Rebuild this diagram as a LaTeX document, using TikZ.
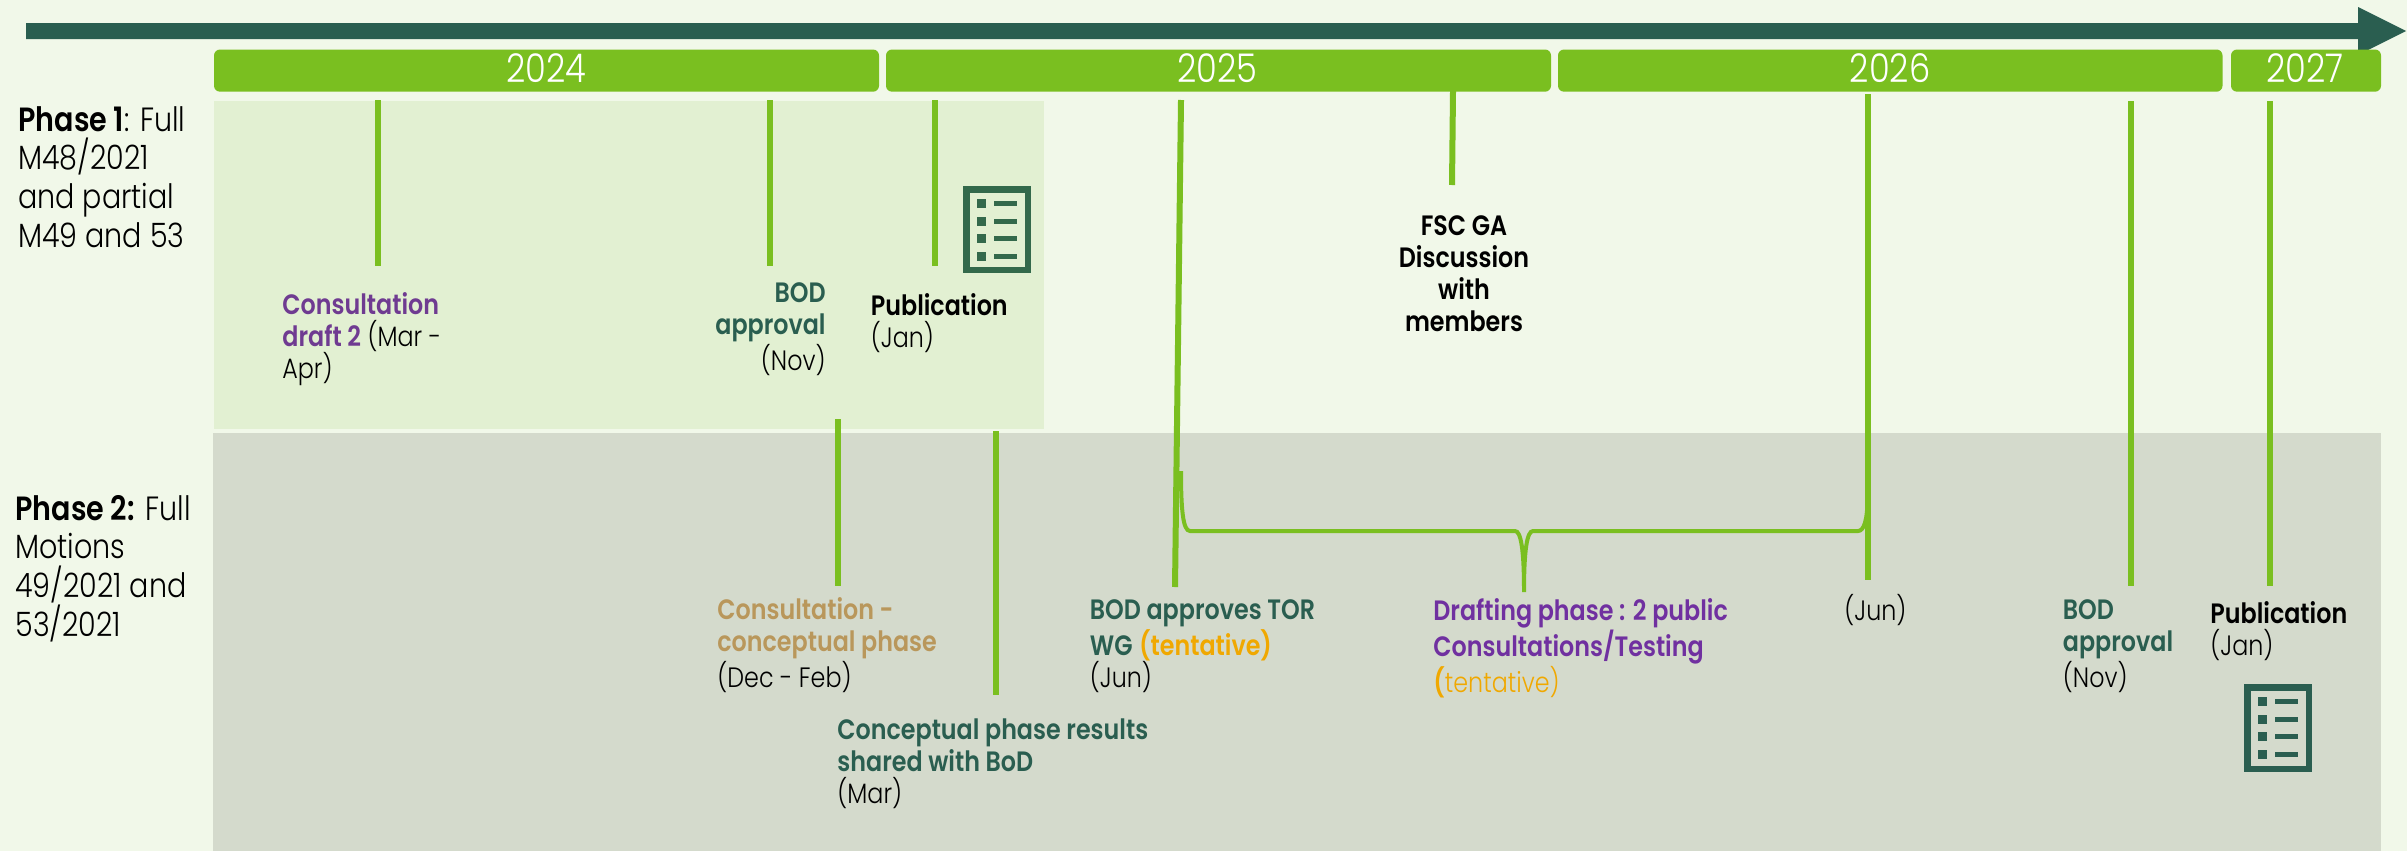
\documentclass[tikz,border=0pt]{standalone}
\usepackage{fontspec}
\setmainfont{Poppins}[UprightFont=* Light, BoldFont=* SemiBold, FakeStretch=0.85]
\definecolor{bgc}{HTML}{F1F8E9}
\definecolor{panelc}{HTML}{E2F0D2}
\definecolor{grayc}{HTML}{D4DACC}
\definecolor{barc}{HTML}{7ABF20}
\definecolor{darkc}{HTML}{2A5E50}
\definecolor{iconc}{HTML}{33694B}
\definecolor{purplec}{HTML}{7030A0}
\definecolor{purplelt}{HTML}{6F3B91}
\definecolor{tanc}{HTML}{B9975B}
\definecolor{orangec}{HTML}{F0A800}
\tikzset{
  yearbar/.style={fill=barc,draw=none,rounded corners=3pt},
  yeartext/.style={text=white,font=\fontsize{19.8pt}{20pt}\selectfont,anchor=base,inner sep=0},
  tick/.style={draw=barc,line width=3pt},
  bracec/.style={draw=barc,line width=2pt},
  phaselabel/.style={align=left,anchor=base west,inner sep=0,font=\fontsize{16.8pt}{19.3pt}\selectfont},
  lab/.style={align=left,anchor=base west,inner sep=0,font=\fontsize{14pt}{16pt}\selectfont},
}
\newcommand{\listicon}[6]{% x0 y0 x1 y1 colour name
  \draw[#5,line width=3.2pt] (#1+3.3,#2+3.3) rectangle (#3-3.3,#4-3.3);
  \foreach \dy in {13,31,48,66}{
    \fill[#5] (#1+14,#2+\dy) rectangle (#1+23,#2+\dy+9);
    \fill[#5] (#1+31,#2+\dy+2.2) rectangle (#1+54,#2+\dy+6.8);
  }
}
\begin{document}
\begin{tikzpicture}[x=0.5pt,y=-0.5pt]
\useasboundingbox (0,0) rectangle (2407,851);
\fill[bgc] (0,0) rectangle (2407,851);
% panels
\fill[panelc] (214,101) rectangle (1044,429);
\fill[grayc] (213,433) rectangle (2381,851);
% arrow
\fill[darkc] (26,23) -- (2358,23) -- (2358,7) -- (2406,31) -- (2358,55) -- (2358,39) -- (26,39) -- cycle;
% year bars
\fill[yearbar] (214,49.5) rectangle (879,91.7);
\fill[yearbar] (886,49.5) rectangle (1551,91.7);
\fill[yearbar] (1558,49.5) rectangle (2222.5,91.7);
\fill[yearbar] (2231,49.5) rectangle (2381,91.7);
\node[yeartext] (y24) at (546,82) {2024};
\node[yeartext] (y25) at (1217.5,82) {2025};
\node[yeartext] (y26) at (1890,82) {2026};
\node[yeartext] (y27) at (2305,82) {2027};
% tick ends
\coordinate (a1) at (377.5,100); \coordinate (b1) at (377.5,266);
\coordinate (a2) at (769.5,100); \coordinate (b2) at (769.5,266);
\coordinate (a3) at (934.5,100); \coordinate (b3) at (934.5,266);
\coordinate (a4) at (1181,100);  \coordinate (b4) at (1175,587);
\coordinate (a5) at (1453,91);   \coordinate (b5) at (1452,185);
\coordinate (a6) at (1867.5,94); \coordinate (b6) at (1867.5,580);
\coordinate (a7) at (2131,101);  \coordinate (b7) at (2131,586);
\coordinate (a8) at (2270,101);  \coordinate (b8) at (2270,586);
\coordinate (a9) at (838,419);   \coordinate (b9) at (838,586);
\coordinate (a10) at (996,431);  \coordinate (b10) at (996,695);
\foreach \i in {1,...,10}{\draw[tick] (a\i) -- (b\i);}
% brace
\coordinate (bl) at (1181,471);
\coordinate (bm) at (1524,592);
\coordinate (br) at (1867.5,497);
\draw[bracec] (bl) .. controls (1181,510) and (1183,531) .. (1190,531) -- (1515,531)
  .. controls (1521,531) and (1524,550) .. (bm)
  .. controls (1524,550) and (1527,531) .. (1533,531) -- (1858,531)
  .. controls (1864,531) and (1867.5,520) .. (br);
% icons
\listicon{963}{186}{1031}{273}{iconc}{i1}
\listicon{2244}{684}{2312}{772}{darkc}{i2}
% phase labels
\node[phaselabel] (p1) at (18,247) {\textbf{Phase 1}: Full\\M48/2021\\and partial\\M49 and 53};
\node[phaselabel] (p2) at (15,636) {\textbf{Phase 2:} Full\\Motions\\49/2021 and\\53/2021};
% labels
\node[lab] (t1) at (282,378) {\textcolor{purplelt}{\textbf{Consultation}}\\\textcolor{purplelt}{\textbf{draft 2}} (Mar -\\Apr)};
\node[lab,align=right,anchor=base east] (t2) at (826,370) {\textcolor{darkc}{\textbf{BOD}}\\\textcolor{darkc}{\textbf{approval}}\\(Nov)};
\node[lab] (t3) at (870.5,347) {\textbf{Publication}\\(Jan)};
\node[lab,align=center,anchor=base] (t4) at (1464,331) {\textbf{FSC GA}\\\textbf{Discussion}\\\textbf{with}\\\textbf{members}};
\node[lab] (t5) at (717,687) {\textcolor{tanc}{\textbf{Consultation -}}\\\textcolor{tanc}{\textbf{conceptual phase}}\\(Dec - Feb)};
\node[lab] (t6) at (837,803) {\textcolor{darkc}{\textbf{Conceptual phase results}}\\\textcolor{darkc}{\textbf{shared with BoD}}\\(Mar)};
\node[lab] (t7) at (1089.5,687) {\textcolor{darkc}{\textbf{BOD approves TOR}}\\\textcolor{darkc}{\textbf{WG}} \textcolor{orangec}{\textbf{(tentative)}}\\(Jun)};
\node[lab] (t8) at (1433,692) {\textcolor{purplec}{\textbf{Drafting phase : 2 public}}\\\textcolor{purplec}{\textbf{Consultations/Testing}}\\\textcolor{orangec}{\textbf{(}tentative)}};
\node[lab] (t9) at (1844,620) {(Jun)};
\node[lab] (t10) at (2062.5,687) {\textcolor{darkc}{\textbf{BOD}}\\\textcolor{darkc}{\textbf{approval}}\\(Nov)};
\node[lab] (t11) at (2210,655) {\textbf{Publication}\\(Jan)};
\end{tikzpicture}
\end{document}
